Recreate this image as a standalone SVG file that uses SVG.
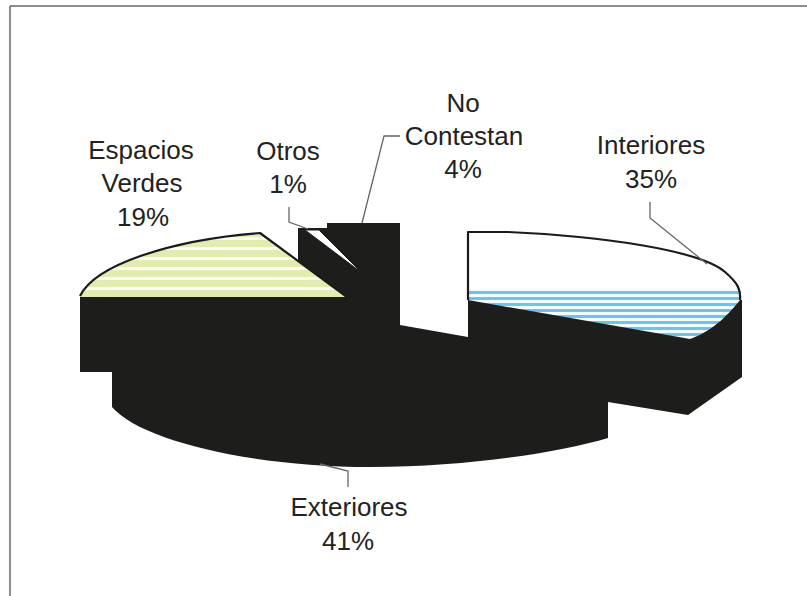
<svg xmlns="http://www.w3.org/2000/svg" width="807" height="596" viewBox="0 0 807 596">
<style>
.lbl{font-family:"Liberation Sans",Arial,sans-serif;font-size:26px;fill:#222;text-anchor:middle}
.ldr{fill:none;stroke:#666;stroke-width:1.3}
.edge{fill:none;stroke:#1a1a1a;stroke-width:2.2;stroke-linejoin:round}
.blk{fill:#1d1d1b}
</style>
<defs>
<pattern id="greenStripe" patternUnits="userSpaceOnUse" width="10" height="10">
<rect width="10" height="10" fill="#e2ecb0"/>
<rect y="7" width="10" height="3" fill="#fbfdf0"/>
</pattern>
<pattern id="blueStripe" patternUnits="userSpaceOnUse" width="10" height="6" y="289">
<rect width="10" height="6" fill="#f4fbfe"/>
<rect y="2" width="10" height="3" fill="#6fc3e6"/>
</pattern>
<clipPath id="blueClip">
<path d="M468,232 L508,232 C600,236 700,250 725,272 C738,283 741,290 740,300 L740,345 L468,345 Z"/>
</clipPath>
</defs>
<rect width="807" height="596" fill="#fff"/>
<g id="frame" fill="none" stroke="#666" stroke-width="1.5">
<line x1="10" y1="6" x2="807" y2="6"/>
<line x1="10" y1="6" x2="10" y2="596"/>
</g>
<g id="slice-interiores">
<path d="M468,232 L508,232 C600,236 700,250 725,272 C738,283 741,290 740,300 L740,345 L468,345 Z" fill="#fff"/>
<rect x="468" y="289" width="275" height="56" fill="url(#blueStripe)" clip-path="url(#blueClip)"/>
<path class="edge" d="M468,300 L468,232 L508,232 C600,236 700,250 725,272 C738,283 741,290 740,300"/>
</g>
<g id="slice-exteriores">
<path class="blk" d="M80,296 L298,296 L298,228 L327,228 L327,223 L400,223 L400,325 L468,337 L468,300 L690,339 C705,334 722,323 740,300 L742,300 L742,377 L688,415 L608,402 L608,438 C560,452 470,467 370,467 C250,467 140,440 112,407 L112,372 L80,372 Z"/>
</g>
<g id="slice-verdes">
<path d="M80,296 C95,265 170,240 260,233 L347,297 L80,297 Z" fill="url(#greenStripe)"/>
<path class="edge" d="M80,296 C95,265 170,240 260,233 L347,297"/>
</g>
<g id="slice-otros">
<polygon points="305,230 319,230 362,273" fill="#fff" stroke="#1a1a1a" stroke-width="1"/>
</g>
<g id="connectors">
<polyline class="ldr" points="289,207 289,222 308,229"/>
<polyline class="ldr" points="400,136 384,136 362,223"/>
<polyline class="ldr" points="650,202 650,218 707,264"/>
<polyline class="ldr" points="320,464 348,471 348,487"/>
</g>
<g id="label-verdes">
<text class="lbl" x="141" y="159">Espacios</text>
<text class="lbl" x="142" y="192">Verdes</text>
<text class="lbl" x="143" y="226">19%</text>
</g>
<g id="label-otros">
<text class="lbl" x="288" y="160">Otros</text>
<text class="lbl" x="288" y="193">1%</text>
</g>
<g id="label-nocontestan">
<text class="lbl" x="463" y="112">No</text>
<text class="lbl" x="464" y="145">Contestan</text>
<text class="lbl" x="463" y="178">4%</text>
</g>
<g id="label-interiores">
<text class="lbl" x="651" y="154">Interiores</text>
<text class="lbl" x="651" y="188">35%</text>
</g>
<g id="label-exteriores">
<text class="lbl" x="349" y="516">Exteriores</text>
<text class="lbl" x="348" y="550">41%</text>
</g>
</svg>
